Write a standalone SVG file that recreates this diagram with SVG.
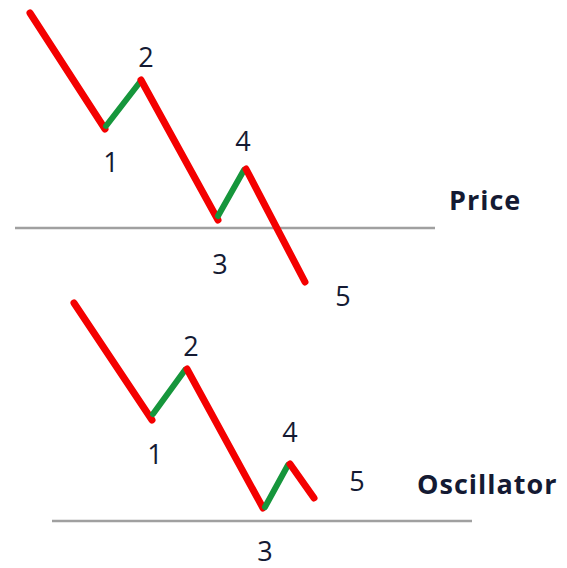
<svg xmlns="http://www.w3.org/2000/svg" width="567" height="568" viewBox="0 0 567 568">
<style>
.dn{fill:none;stroke:#f40000;stroke-width:7;stroke-linecap:round}
.up{fill:none;stroke:#16963c;stroke-width:6;stroke-linecap:round}
.base{stroke:#a0a0a0;stroke-width:2.5}
.lbl{font-family:"Open Sans",sans-serif;font-size:27px;font-weight:500;fill:#141a33;text-anchor:middle}
.ttl{font-family:"Open Sans",sans-serif;font-size:27px;font-weight:bold;fill:#141a33;letter-spacing:1px}
</style>
<rect width="567" height="568" fill="#fff"/>
<g id="connectors">
<line class="base" x1="15" y1="228" x2="435" y2="228"/>
<line class="base" x1="52" y1="521" x2="472" y2="521"/>
<line class="dn" x1="30" y1="13" x2="105" y2="129"/>
<line class="up" x1="106" y1="126" x2="140" y2="82"/>
<line class="dn" x1="141" y1="80" x2="218" y2="220"/>
<line class="up" x1="218" y1="216" x2="244" y2="170"/>
<line class="dn" x1="246" y1="169" x2="305" y2="282"/>
<line class="dn" x1="74" y1="303" x2="152" y2="420"/>
<line class="up" x1="153" y1="414" x2="185" y2="370"/>
<line class="dn" x1="187" y1="369" x2="263" y2="508"/>
<line class="up" x1="265" y1="507" x2="288" y2="465"/>
<line class="dn" x1="290" y1="464" x2="314" y2="498"/>
</g>
<g id="price">
<text class="lbl" x="111" y="172">1</text>
<text class="lbl" x="146" y="67">2</text>
<text class="lbl" x="220" y="274">3</text>
<text class="lbl" x="243" y="151">4</text>
<text class="lbl" x="343" y="306">5</text>
<text class="ttl" x="449" y="210">Price</text>
</g>
<g id="oscillator">
<text class="lbl" x="155" y="464">1</text>
<text class="lbl" x="191" y="356">2</text>
<text class="lbl" x="265" y="561">3</text>
<text class="lbl" x="290" y="442">4</text>
<text class="lbl" x="357" y="491">5</text>
<text class="ttl" x="417" y="494">Oscillator</text>
</g>
</svg>
